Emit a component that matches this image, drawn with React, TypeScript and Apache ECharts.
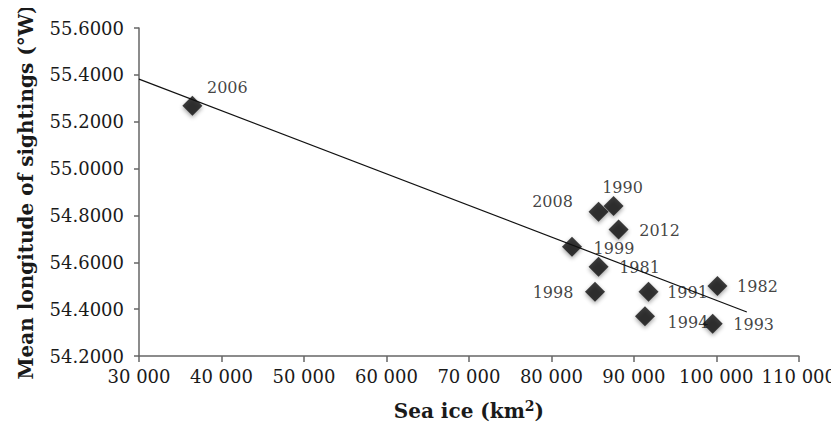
import React, { useEffect, useRef } from "react";
import * as echarts from "echarts";

const years = ["2006", "2008", "1990", "2012", "1999", "1981", "1998", "1991", "1982", "1994", "1993"];
const seaIce = [36470, 85720, 87540, 88150, 82500, 85720, 85290, 91780, 100140, 91350, 99560];
const longitude = [55.268, 54.816, 54.84, 54.74, 54.666, 54.581, 54.474, 54.474, 54.499, 54.37, 54.338];

const trendX = [30000, 103700];
const trendY = [55.382, 54.388];

const xTicks = { min: 30000, max: 110000, interval: 10000 };
const yTicks = { min: 54.2, max: 55.6, interval: 0.2 };

// label offsets (label centre relative to marker centre), in px
const labelOffsets: Record<string, [number, number]> = {
  "2006": [35, -18],
  "2008": [-46, -10],
  "1990": [9, -19],
  "2012": [41, 1],
  "1999": [42, 2],
  "1981": [41, 1],
  "1998": [-42, 1],
  "1991": [39, 1],
  "1982": [40, 1],
  "1994": [43, 6],
  "1993": [41, 1],
};

const FONT = "DejaVu Serif";

export default function App() {
  const ref = useRef<HTMLDivElement>(null);
  useEffect(() => {
    if (!ref.current) return;
    const chart = echarts.init(ref.current, null, { renderer: "svg" });
    const points = years.map((y, i) => ({
      name: y,
      value: [seaIce[i], longitude[i]],
      label: { offset: labelOffsets[y] },
    }));
    chart.setOption({
      animation: false,
      grid: { left: 139, right: 39, top: 28, bottom: 74, containLabel: false },
      xAxis: {
        type: "value",
        min: xTicks.min,
        max: xTicks.max,
        interval: xTicks.interval,
        name: "Sea ice (km{sup|2})",
        nameLocation: "middle",
        nameGap: 43,
        nameTextStyle: {
          fontFamily: FONT,
          fontWeight: "bold",
          fontSize: 20,
          color: "#1a1a1a",
          rich: {
            sup: { fontFamily: FONT, fontWeight: "bold", fontSize: 14, color: "#1a1a1a", padding: [0, 0, 10, 0] },
          },
        },
        axisLine: { show: true, lineStyle: { color: "#666", width: 1.5 } },
        axisTick: { show: true, inside: false, length: 6, lineStyle: { color: "#666", width: 1.5 } },
        splitLine: { show: false },
        axisLabel: {
          fontFamily: FONT,
          fontSize: 18,
          color: "#1a1a1a",
          margin: 11,
          formatter: (v: number) => {
            const s = Math.round(v).toString();
            return s.slice(0, s.length - 3) + " " + s.slice(s.length - 3);
          },
        },
      },
      yAxis: {
        type: "value",
        min: yTicks.min,
        max: yTicks.max,
        interval: yTicks.interval,
        name: "Mean longitude of sightings (°W)",
        nameLocation: "middle",
        nameGap: 103,
        nameTextStyle: { fontFamily: FONT, fontWeight: "bold", fontSize: 20, color: "#1a1a1a" },
        axisLine: { show: true, lineStyle: { color: "#666", width: 1.5 } },
        axisTick: { show: true, inside: false, length: 5, lineStyle: { color: "#666", width: 1.5 } },
        splitLine: { show: false },
        axisLabel: {
          fontFamily: FONT,
          fontSize: 18,
          color: "#1a1a1a",
          margin: 15,
          formatter: (v: number) => v.toFixed(4),
        },
      },
      series: [
        {
          type: "line",
          data: trendX.map((x, i) => [x, trendY[i]]),
          symbol: "none",
          silent: true,
          lineStyle: { color: "#111", width: 1.2 },
          z: 1,
        },
        {
          type: "scatter",
          data: points,
          symbol: "diamond",
          symbolSize: 20,
          itemStyle: {
            color: "#0d0d0d",
            shadowBlur: 4,
            shadowColor: "rgba(0,0,0,0.45)",
            shadowOffsetY: 2,
          },
          label: {
            show: true,
            position: "inside",
            formatter: (p: any) => p.name,
            fontFamily: FONT,
            fontSize: 16,
            color: "#111",
          },
          z: 2,
        },
      ],
    });
    return () => chart.dispose();
  }, []);
  return <div ref={ref} style={{ width: 839, height: 430, margin: -8 }} />;
}
